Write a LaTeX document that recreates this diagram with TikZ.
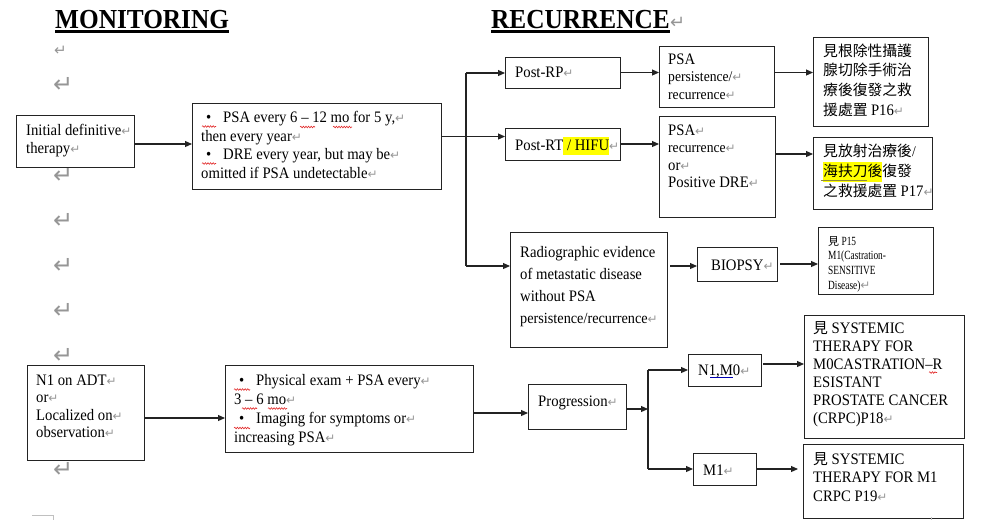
\documentclass[tikz,border=0pt]{standalone}
\usepackage{fontspec}
\setmainfont{Liberation Serif}[FakeStretch=0.92]
\newfontfamily\cjk{Noto Sans CJK TC}
\newfontfamily\symf{DejaVu Sans}
\newfontfamily\nar{Liberation Serif}[FakeStretch=0.75]
\usetikzlibrary{arrows.meta,fit,decorations.pathmorphing}

\definecolor{pmgray}{RGB}{150,150,150}
\definecolor{hl}{RGB}{255,255,0}
\definecolor{ink}{RGB}{35,35,35}
\definecolor{squigred}{RGB}{225,40,40}

% paragraph mark after a line of text
\newcommand\pmk{{\color{pmgray}\symf\fontsize{12}{10}\selectfont ↵}}
% block of left-aligned lines: size, line spacing, rows
\newcommand\tb[3]{\fontsize{#1}{#2}\selectfont\begin{tabular}[t]{@{}l@{}}#3\end{tabular}}
\newcommand\bul{\makebox[22pt][l]{\hspace{5pt}\textbullet}}
\newcommand\hlt[1]{{\setlength\fboxsep{0pt}\colorbox{hl}{\strut#1}}}

\begin{document}
\begin{tikzpicture}[x=1pt,y=-1pt,
  box/.style={draw=ink, line width=1pt, inner sep=0pt, outer sep=0pt},
  txt/.style={inner sep=0pt, anchor=base west, text=black},
  pmnode/.style={inner sep=0pt, anchor=west, text=pmgray, font=\symf\fontsize{24}{24}\selectfont},
  conn/.style={draw=ink, line width=1.1pt},
  arr/.style={conn, -{Triangle[length=7pt,width=6pt]}},
  squig/.style={draw=squigred, line width=0.6pt, decorate,
    decoration={snake, amplitude=0.8pt, segment length=2.6pt}},
]
\useasboundingbox (0,0) rectangle (982,520);

% ---------- headings ----------
\node[txt] (montitle) at (55,28) {\fontsize{27.5}{30}\selectfont\bfseries MONITORING};
\draw[line width=2.4pt] ([yshift=-3.4pt]montitle.base west) -- ([yshift=-3.4pt]montitle.base east);
\node[txt] (rectitle) at (491,28) {\fontsize{27.5}{30}\selectfont\bfseries RECURRENCE};
\draw[line width=2.4pt] ([yshift=-3.4pt]rectitle.base west) -- ([yshift=-3.4pt]rectitle.base east);
\node[inner sep=0pt, anchor=base west, text=pmgray, font=\symf\fontsize{18}{18}\selectfont] (recpm) at (rectitle.base east) {↵};

% ---------- empty paragraph marks down the left margin ----------
\node[pmnode, font=\symf\fontsize{15}{15}\selectfont] (pm1) at (54,51) {↵};
\foreach \i/\yy in {2/85,3/176,4/221,5/266,6/311,7/356,8/470}
  \node[pmnode] (pm\i) at (53,\yy) {↵};

% ---------- boxes ----------
\node[box, fit={(16,115)(134,167)}] (init) {};
\node[box, fit={(192,103)(441,189)}] (mon1) {};
\node[box, fit={(505,57)(620,88)}] (postrp) {};
\node[box, fit={(659,46)(774,107)}] (persist) {};
\node[box, fit={(813,37)(928,126)}] (cn1) {};
\node[box, fit={(505,128)(620,160)}] (postrt) {};
\node[box, fit={(659,116)(775,217)}] (psarec) {};
\node[box, fit={(813,137)(932,209)}] (cn2) {};
\node[box, fit={(510,232)(667,347)}] (radio) {};
\node[box, fit={(697,247)(777,281)}] (biopsy) {};
\node[box, fit={(818,227)(933,294)}] (pfif) {};
\node[box, fit={(27,365)(144,460)}] (adt) {};
\node[box, fit={(225,365)(473,452)}] (phys) {};
\node[box, fit={(528,384)(626,429)}] (prog) {};
\node[box, fit={(688,354)(761,386)}] (nmzero) {};
\node[box, fit={(804,315)(964,438)}] (sysa) {};
\node[box, fit={(693,453)(756,485)}] (mone) {};
\node[box, fit={(803,444)(963,518)}] (sysb) {};

% ---------- box texts ----------
\node[txt] (initt) at (26,135) {\tb{16}{18}{Initial definitive\pmk\\therapy\pmk}};
\node[txt] (mon1t) at (201,122.5) {\tb{16}{18.5}{%
  \bul PSA every 6 – 12 mo for 5 y,\pmk\\
  then every year\pmk\\
  \bul DRE every year, but may be\pmk\\
  omitted if PSA undetectable\pmk}};
\node[txt] (postrpt) at (515,77.5) {\tb{16}{18}{Post-RP\pmk}};
\node[txt] (persistt) at (668,64) {\tb{16}{17.5}{%
  PSA\\
  \fontsize{14.8}{17.5}\selectfont persistence/\pmk\\
  \fontsize{14.8}{17.5}\selectfont recurrence\pmk}};
\node[txt] (cn1t) at (823,56) {\tb{14.8}{19.7}{%
  {\cjk 見根除性攝護}\\
  {\cjk 腺切除手術治}\\
  {\cjk 療後復發之救}\\
  {\cjk 援處置} {\fontsize{16}{19.7}\selectfont P16}\pmk}};
\node[txt] (postrtt) at (515,150) {\tb{16}{18}{Post-RT\hlt{ / HIFU}\pmk}};
\node[txt] (psarect) at (668,135) {\tb{16}{17.5}{%
  PSA\pmk\\
  \fontsize{14.8}{17.5}\selectfont recurrence\pmk\\
  or\pmk\\
  Positive DRE\pmk}};
\node[txt] (cn2t) at (823,156) {\tb{14.8}{20}{%
  {\cjk 見放射治療後}/\\
  \hlt{\cjk 海扶刀後}{\cjk 復發}\\
  {\cjk 之救援處置} {\fontsize{16}{20}\selectfont P17}\pmk}};
\node[txt] (radiot) at (520,257) {\tb{16}{22}{%
  Radiographic evidence\\
  of metastatic disease\\
  without PSA\\
  \fontsize{15.5}{22}\selectfont persistence/recurrence\pmk}};
\node[txt] (biopsyt) at (711,270) {\tb{16}{18}{BIOPSY\pmk}};
\node[txt] (pfift) at (828,245) {\nar\tb{12.5}{14.8}{%
  {\cjk\fontsize{11}{14.8}\selectfont 見} P15\\
  M1(Castration-\\
  SENSITIVE\\
  Disease)\pmk}};
\node[txt] (adtt) at (36,385) {\tb{16}{17.5}{%
  N1 on ADT\pmk\\
  or\pmk\\
  Localized on\pmk\\
  observation\pmk}};
\node[txt] (physt) at (234,385.5) {\tb{16}{19}{%
  \bul Physical exam + PSA every\pmk\\
  3 – 6 mo\pmk\\
  \bul Imaging for symptoms or\pmk\\
  increasing PSA\pmk}};
\node[txt] (progt) at (538,406) {\tb{16}{18}{Progression\pmk}};
\node[txt] (nmzerot) at (698,375) {\tb{16}{18}{N1,M0\pmk}};
\node[txt] (sysat) at (813,333.5) {\tb{16}{17.9}{%
  {\cjk\fontsize{14.8}{17.9}\selectfont 見} SYSTEMIC\\
  THERAPY FOR\\
  M0CASTRATION–R\\
  ESISTANT\\
  PROSTATE CANCER\\
  (CRPC)P18\pmk}};
\node[txt] (monet) at (703,475) {\tb{16}{18}{M1\pmk}};
\node[txt] (sysbt) at (813,464) {\tb{16}{18.8}{%
  {\cjk\fontsize{14.8}{18.8}\selectfont 見} SYSTEMIC\\
  THERAPY FOR M1\\
  CRPC P19\pmk}};

% ---------- connectors: monitoring after definitive therapy ----------
\coordinate (jt) at (466,73);
\coordinate (jr) at (466,136.5);
\coordinate (jb) at (466,266);
\draw[arr] ([yshift=-3pt]init.east) -- ([yshift=-3pt]init.east -| mon1.west);
\draw[arr] (mon1.east |- jr) -- (jr -| postrt.west);
\draw[conn] (jt) -- (jb);
\draw[arr] (jt) -- (jt -| postrp.west);
\draw[arr] (jb) -- (jb -| radio.west);
\draw[arr] (postrp.east) -- (postrp.east -| persist.west);
\draw[arr] (persist.east |- postrp.east) -- (postrp.east -| cn1.west);
\draw[arr] (postrt.east) -- (postrt.east -| psarec.west);
\coordinate (kc) at (0,154);
\draw[arr] (psarec.east |- kc) -- (kc -| cn2.west);
\draw[arr, shorten <=3pt] (radio.east |- jb) -- (jb -| biopsy.west);
\draw[arr, shorten <=3pt] (biopsy.east) -- (biopsy.east -| pfif.west);

% ---------- connectors: N1 / localized disease ----------
\coordinate (ka) at (0,418);
\draw[arr] (adt.east |- ka) -- (ka -| phys.west);
\coordinate (kp) at (0,413);
\draw[arr] (phys.east |- kp) -- (kp -| prog.west);
\coordinate (kx) at (648,409);
\draw[arr] (prog.east |- kx) -- (kx);
\draw[conn] (kx |- nmzero.west) -- (kx |- mone.west);
\draw[arr] (kx |- nmzero.west) -- (nmzero.west);
\draw[arr] (kx |- mone.west) -- (mone.west);
\coordinate (kn) at (0,364);
\draw[arr, shorten <=2pt] (nmzero.east |- kn) -- (kn -| sysa.west);
\draw[arr, shorten <=1pt, shorten >=5pt] (mone.east) -- (mone.east -| sysb.west);

% ---------- proofing underlines ----------
\draw[squig] (202,126.5) -- (216,126.5);
\draw[squig] (300,127) -- (315,127);
\draw[squig] (333,127) -- (352,127);
\draw[squig] (202,163.5) -- (216,163.5);
\draw[squig] (234,389.5) -- (250,389.5);
\draw[squig] (242,408.5) -- (257,408.5);
\draw[squig] (268,408.5) -- (287,408.5);
\draw[squig] (234,428) -- (250,428);
\draw[squig] (929,372.5) -- (937,372.5);
\draw[blue!70!black, line width=0.7pt] (710,377.5) -- (733,377.5);
\draw[olive!60!gray, line width=1.3pt] (821,180.5) -- (867,180.5);

% ---------- page corner marks ----------
\draw[pmgray!60, line width=1pt] (32,515.5) -- (53.5,515.5) -- (53.5,520);
\draw[pmgray!60, line width=0.8pt] (931,516.5) -- (931,520);
\end{tikzpicture}
\end{document}
